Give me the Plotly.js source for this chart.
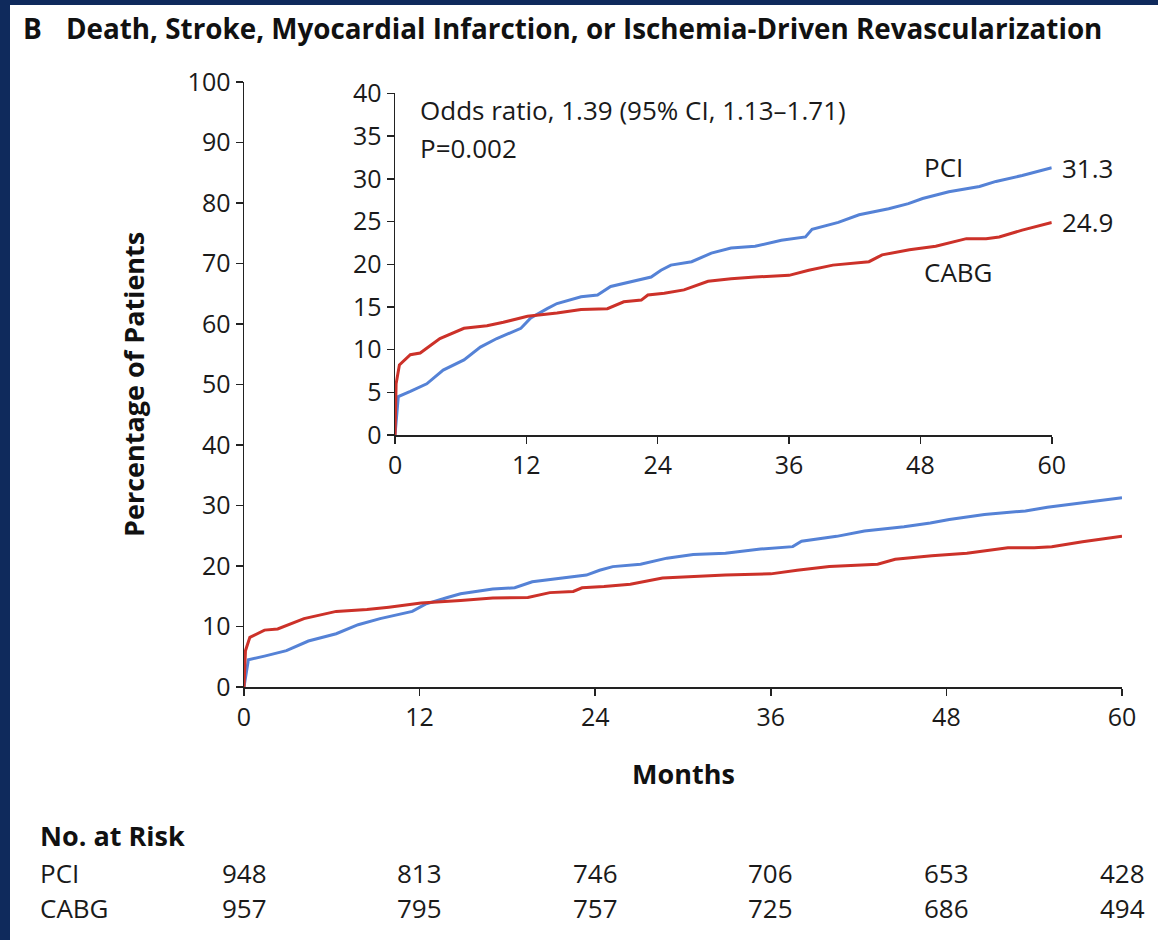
<!DOCTYPE html>
<html>
<head>
<meta charset="utf-8">
<script src="https://cdn.plot.ly/plotly-3.0.1.min.js"></script>
<style>
  html, body { margin: 0; padding: 0; background: #0f2a5c; width: 1158px; height: 940px; overflow: hidden; }
  #chart { position: absolute; left: 10px; top: 5px; width: 1148px; height: 935px; background: #fff; }
</style>
</head>
<body>
<div id="chart"></div>
<script>
// ---- Data ----
const pciMonths  = [0, 0.3, 1.4, 2.9, 4.4, 6.3, 7.8, 9.3, 11.5, 12.4, 13.9, 14.8, 17.0, 18.5, 19.7, 21.6, 23.4, 24.3, 25.2, 27.1, 28.9, 30.7, 32.9, 35.3, 37.5, 38.1, 40.5, 42.4, 45.1, 46.9, 48.2, 50.6, 53.4, 54.9, 57.3, 60];
const pciValues  = [0, 4.5, 5.1, 6.0, 7.6, 8.8, 10.3, 11.3, 12.5, 13.7, 14.8, 15.4, 16.2, 16.4, 17.4, 18.0, 18.5, 19.3, 19.9, 20.3, 21.3, 21.9, 22.1, 22.8, 23.2, 24.1, 24.9, 25.8, 26.5, 27.1, 27.7, 28.5, 29.1, 29.7, 30.4, 31.3];
const cabgMonths = [0, 0.1, 0.4, 1.4, 2.3, 4.1, 6.3, 8.4, 9.9, 12.1, 14.8, 17.0, 19.4, 20.9, 22.5, 23.1, 24.6, 26.4, 28.6, 30.7, 32.9, 36.0, 37.8, 40.0, 43.3, 44.5, 47.0, 49.4, 52.2, 54.0, 55.2, 57.3, 60];
const cabgValues = [0, 6.0, 8.2, 9.4, 9.6, 11.3, 12.5, 12.8, 13.2, 13.9, 14.3, 14.7, 14.8, 15.6, 15.8, 16.4, 16.6, 17.0, 18.0, 18.3, 18.5, 18.7, 19.3, 19.9, 20.3, 21.1, 21.7, 22.1, 23.0, 23.0, 23.2, 24.0, 24.9];

const riskMonths = [0, 12, 24, 36, 48, 60];
const riskPCI    = [948, 813, 746, 706, 653, 428];
const riskCABG   = [957, 795, 757, 725, 686, 494];
const seriesNames = ['PCI', 'CABG'];
const finalLabels = ['31.3', '24.9'];

const title = 'Death, Stroke, Myocardial Infarction, or Ischemia-Driven Revascularization';
const oddsText = 'Odds ratio, 1.39 (95% CI, 1.13\u20131.71)';
const pText = 'P=0.002';

// ---- Styling ----
const BLUE = '#5582d6';
const RED = '#cc3129';
const FONT = '"Open Sans", Lato, sans-serif';
const TXT = '#1a1a1a';
const TICK_SIZE = 25;
const TEXT_SIZE = 26;
const BOLD_SIZE = 27;

// page pixel -> paper fraction (plot area: x 244..1122, y 82..687 in page pixels)
const px = x => (x - 244) / 878;
const py = y => (687 - y) / 605;

const lineStyle = (c) => ({ color: c, width: 3 });

const traces = [
  { x: pciMonths, y: pciValues, mode: 'lines', line: lineStyle(BLUE), xaxis: 'x', yaxis: 'y', hoverinfo: 'skip' },
  { x: cabgMonths, y: cabgValues, mode: 'lines', line: lineStyle(RED), xaxis: 'x', yaxis: 'y', hoverinfo: 'skip' },
  { x: pciMonths, y: pciValues, mode: 'lines', line: lineStyle(BLUE), xaxis: 'x2', yaxis: 'y2', hoverinfo: 'skip' },
  { x: cabgMonths, y: cabgValues, mode: 'lines', line: lineStyle(RED), xaxis: 'x2', yaxis: 'y2', hoverinfo: 'skip' }
];

const axisBase = {
  showgrid: false, zeroline: false, showline: true, linecolor: '#222', linewidth: 1.5,
  ticks: 'outside', ticklen: 7, tickwidth: 1.5, tickcolor: '#222',
  tickfont: { family: FONT, size: TICK_SIZE, color: TXT }, fixedrange: true
};

const annotations = [];
annotations.push({ xref: 'paper', yref: 'paper', x: px(21), y: py(28), xanchor: 'left', yanchor: 'middle',
  text: '<b>B</b>', showarrow: false, font: { family: FONT, size: 28, color: '#111' } });
annotations.push({ xref: 'paper', yref: 'paper', x: px(64), y: py(28), xanchor: 'left', yanchor: 'middle',
  text: '<b>' + title + '</b>', showarrow: false, font: { family: FONT, size: 27.8, color: '#111' } });
annotations.push({ xref: 'paper', yref: 'paper', x: px(133), y: py(384), xanchor: 'center', yanchor: 'middle',
  textangle: -90, text: '<b>Percentage of Patients</b>', showarrow: false, font: { family: FONT, size: BOLD_SIZE, color: '#111' } });
annotations.push({ xref: 'paper', yref: 'paper', x: px(683), y: py(773), xanchor: 'center', yanchor: 'middle',
  text: '<b>Months</b>', showarrow: false, font: { family: FONT, size: BOLD_SIZE, color: '#111' } });
// inset text
annotations.push({ xref: 'x2', yref: 'y2', x: 2.1, y: 38.1, xanchor: 'left', yanchor: 'middle',
  text: oddsText, showarrow: false, font: { family: FONT, size: TEXT_SIZE, color: TXT } });
annotations.push({ xref: 'x2', yref: 'y2', x: 2.1, y: 33.6, xanchor: 'left', yanchor: 'middle',
  text: pText, showarrow: false, font: { family: FONT, size: TEXT_SIZE, color: TXT } });
annotations.push({ xref: 'x2', yref: 'y2', x: 48.1, y: 31.4, xanchor: 'left', yanchor: 'middle',
  text: seriesNames[0], showarrow: false, font: { family: FONT, size: TEXT_SIZE, color: TXT } });
annotations.push({ xref: 'x2', yref: 'y2', x: 48.1, y: 19.1, xanchor: 'left', yanchor: 'middle',
  text: seriesNames[1], showarrow: false, font: { family: FONT, size: TEXT_SIZE, color: TXT } });
annotations.push({ xref: 'x2', yref: 'y2', x: 60, y: pciValues[pciValues.length - 1], xanchor: 'left', yanchor: 'middle', xshift: 8,
  text: finalLabels[0], showarrow: false, font: { family: FONT, size: TEXT_SIZE, color: TXT } });
annotations.push({ xref: 'x2', yref: 'y2', x: 60, y: cabgValues[cabgValues.length - 1], xanchor: 'left', yanchor: 'middle', xshift: 8,
  text: finalLabels[1], showarrow: false, font: { family: FONT, size: TEXT_SIZE, color: TXT } });
// risk table
annotations.push({ xref: 'paper', yref: 'paper', x: px(38), y: py(835), xanchor: 'left', yanchor: 'middle',
  text: '<b>No. at Risk</b>', showarrow: false, font: { family: FONT, size: BOLD_SIZE, color: '#111' } });
const rowY = [py(873), py(908)];
[riskPCI, riskCABG].forEach((row, i) => {
  annotations.push({ xref: 'paper', yref: 'paper', x: px(38), y: rowY[i], xanchor: 'left', yanchor: 'middle',
    text: seriesNames[i], showarrow: false, font: { family: FONT, size: TEXT_SIZE, color: TXT } });
  row.forEach((v, j) => {
    annotations.push({ xref: 'x', yref: 'paper', x: riskMonths[j], y: rowY[i], xanchor: 'center', yanchor: 'middle',
      text: String(v), showarrow: false, font: { family: FONT, size: TEXT_SIZE, color: TXT } });
  });
});

const layout = {
  width: 1148, height: 935,
  margin: { l: 234, r: 36, t: 77, b: 253 },
  paper_bgcolor: '#ffffff', plot_bgcolor: 'rgba(0,0,0,0)',
  showlegend: false,
  xaxis: Object.assign({}, axisBase, { range: [0, 60], tickvals: riskMonths, domain: [0, 1], anchor: 'y' }),
  yaxis: Object.assign({}, axisBase, { range: [0, 100], dtick: 10, domain: [0, 1], anchor: 'x' }),
  xaxis2: Object.assign({}, axisBase, { range: [0, 60], tickvals: riskMonths, domain: [0.172, 0.92], anchor: 'y2' }),
  yaxis2: Object.assign({}, axisBase, { range: [0, 40], dtick: 5, domain: [0.4165, 0.981], anchor: 'x2' }),
  annotations: annotations
};

Plotly.newPlot('chart', traces, layout, { displayModeBar: false, staticPlot: true });
</script>
</body>
</html>
